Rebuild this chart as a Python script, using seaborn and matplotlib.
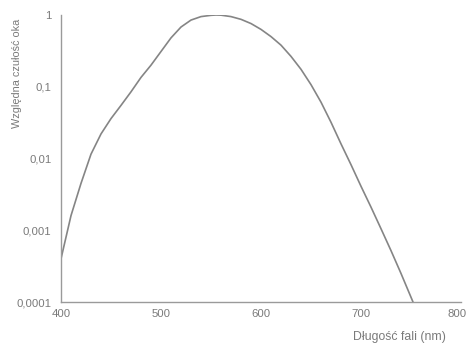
import numpy as np
import pandas as pd
import matplotlib
matplotlib.use("Agg")
import matplotlib.pyplot as plt
import matplotlib.transforms as mtransforms
import seaborn as sns

# wavelength (nm) and relative eye sensitivity
wavelength = [400, 410, 420, 430, 440, 450, 460, 470, 480, 490, 500, 510, 520,
              530, 540, 550, 555, 560, 570, 580, 590, 600, 610, 620, 630, 640,
              650, 660, 670, 680, 690, 700, 710, 720, 730, 740, 752]
sensitivity = [4.0e-4, 1.6e-3, 4.5e-3, 0.0115, 0.022, 0.036, 0.055, 0.085, 0.135,
               0.20, 0.31, 0.48, 0.68, 0.85, 0.95, 0.99, 1.0, 0.995, 0.95, 0.87,
               0.76, 0.63, 0.50, 0.38, 0.265, 0.175, 0.107, 0.061, 0.032, 0.016,
               0.0082, 0.0041, 0.0021, 0.00105, 0.00052, 0.00025, 0.0001]

x_ticks = [400, 500, 600, 700, 800]
y_ticks = [1e-4, 1e-3, 1e-2, 1e-1, 1]
y_tick_labels = ["0,0001", "0,001", "0,01", "0,1", "1"]

df = pd.DataFrame({"wl": wavelength, "v": sensitivity})

sns.set_style("white")
plt.rcParams["font.family"] = ["Liberation Sans", "DejaVu Sans"]

axis_col = "#9a9a9a"
text_col = "#7a7a7a"

fig = plt.figure(figsize=(4.69, 3.47), dpi=100)
ax = fig.add_axes([61 / 469, 45 / 347, 400 / 469, 287 / 347])

sns.lineplot(data=df, x="wl", y="v", ax=ax, color="#858585", linewidth=1.2)

ax.set_yscale("log")
ax.set_xlim(400, 800)
ax.set_ylim(1e-4, 1)
ax.set_xticks(x_ticks)
ax.set_xticklabels([str(t) for t in x_ticks])
ax.set_yticks(y_ticks)
ax.set_yticklabels(y_tick_labels)
ax.minorticks_off()

sns.despine(ax=ax)
for s in ["left", "bottom"]:
    ax.spines[s].set_color(axis_col)
    ax.spines[s].set_linewidth(1.0)

ax.tick_params(axis="y", direction="out", length=4, width=0.8, color=axis_col,
               labelsize=8.2, labelcolor=text_col, pad=3)
ax.tick_params(axis="x", direction="inout", length=4, width=0.8, color=axis_col,
               labelsize=8.2, labelcolor=text_col, pad=3)

# nudge the last x label a bit so it stays inside the image
last = ax.get_xticklabels()[-1]
last.set_transform(last.get_transform() +
                   mtransforms.ScaledTranslation(-4 / 100, 0, fig.dpi_scale_trans))

ax.set_xlabel("")
ax.set_ylabel("")
fig.text(17 / 469, 1 - 73 / 347, "Względna czułość oka", rotation=90,
         ha="center", va="center", fontsize=7.8, color=text_col)
fig.text(399 / 469, 1 - 337 / 347, "Długość fali (nm)", ha="center",
         va="center", fontsize=8.8, color=text_col)

fig.savefig("out.png", dpi=100)
